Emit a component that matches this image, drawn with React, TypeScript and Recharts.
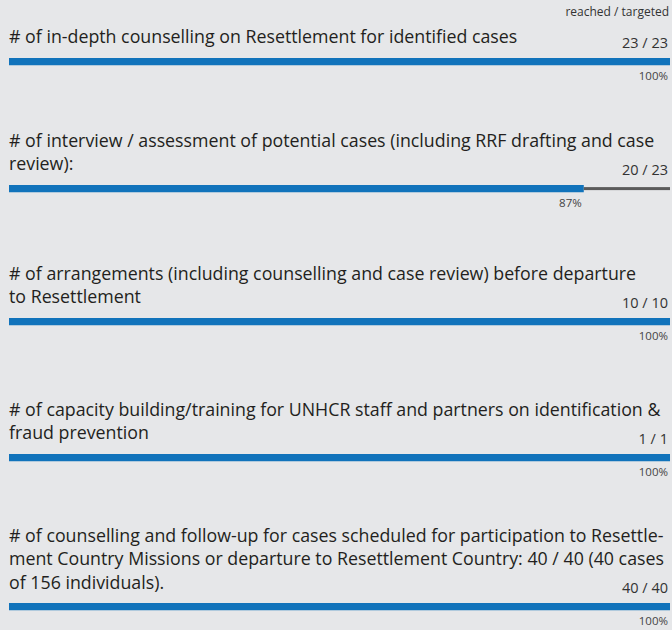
import React from "react";
import { BarChart, Bar, XAxis, YAxis, LabelList } from "recharts";

// indicator titles, split the way the report wraps them
const titles: string[][] = [
  ["# of in-depth counselling on Resettlement for identified cases"],
  [
    "# of interview / assessment of potential cases (including RRF drafting and case",
    "review):",
  ],
  [
    "# of arrangements (including counselling and case review) before departure",
    "to Resettlement",
  ],
  [
    "# of capacity building/training for UNHCR staff and partners on identification &",
    "fraud prevention",
  ],
  [
    "# of counselling and follow-up for cases scheduled for participation to Resettle-",
    "ment Country Missions or departure to Resettlement Country: 40 / 40 (40 cases",
    "of 156 individuals).",
  ],
];
const reached = [23, 20, 10, 1, 40];
const targeted = [23, 23, 10, 1, 40];

const FONT = "'Open Sans', Lato, sans-serif";
const BLUE = "#1173bb";
const LINE_H = 23.5;
// space above each block, to follow the report's uneven spacing
const blockGap = [0, 47, 53, 56, 46];

const RemainderShape = (props: any) => {
  const { x, y, width, height } = props;
  if (!width || width <= 0) return null;
  return (
    <rect x={x} y={y + height / 2 - 1.5} width={width} height={3} fill="#5b5b5b" />
  );
};

function Indicator({ i }: { i: number }) {
  const target = targeted[i];
  const done = reached[i];
  const data = [{ name: "row", reached: done, rest: target - done }];

  const renderLabels = (props: any) => {
    const { x, y, width, height } = props;
    const endX = x + width;
    const fullX = x + (width * target) / done;
    const pct = Math.round((done / target) * 100);
    return (
      <g>
        <text
          x={fullX - 2}
          y={y - 10}
          textAnchor="end"
          fontSize={14.5}
          fontFamily={FONT}
          fill="#333"
        >
          {`${done} / ${target}`}
        </text>
        <text
          x={endX - 2}
          y={y + height + 15}
          textAnchor="end"
          fontSize={11.5}
          fontFamily={FONT}
          fill="#444"
        >
          {`${pct}%`}
        </text>
      </g>
    );
  };

  return (
    <div style={{ marginTop: blockGap[i] }}>
      <div style={{ paddingLeft: 9, fontSize: 17.8, lineHeight: `${LINE_H}px`, color: "#231f20" }}>
        {titles[i].map((line) => (
          <div key={line} style={{ whiteSpace: "nowrap" }}>
            {line}
          </div>
        ))}
      </div>
      <div style={{ marginTop: -13 }}>
        <BarChart
          width={672}
          height={46}
          layout="vertical"
          data={data}
          margin={{ top: 22, right: 2, bottom: 16, left: 9 }}
          style={{ overflow: "visible" }}
        >
          <XAxis type="number" hide domain={[0, target]} />
          <YAxis type="category" dataKey="name" hide />
          <Bar dataKey="reached" stackId="a" fill={BLUE} barSize={8} isAnimationActive={false}>
            <LabelList content={renderLabels} />
          </Bar>
          <Bar
            dataKey="rest"
            stackId="a"
            barSize={8}
            shape={<RemainderShape />}
            isAnimationActive={false}
          />
        </BarChart>
      </div>
    </div>
  );
}

export default function App() {
  return (
    <div
      style={{
        position: "absolute",
        left: 0,
        top: 0,
        width: 672,
        height: 630,
        background: "#e6e7e9",
        fontFamily: FONT,
        overflow: "hidden",
      }}
    >
      <div
        style={{
          height: 25,
          lineHeight: "24px",
          fontSize: 12,
          textAlign: "right",
          paddingRight: 3,
          color: "#333",
        }}
      >
        reached / targeted
      </div>
      {titles.map((_, i) => (
        <Indicator key={i} i={i} />
      ))}
    </div>
  );
}
